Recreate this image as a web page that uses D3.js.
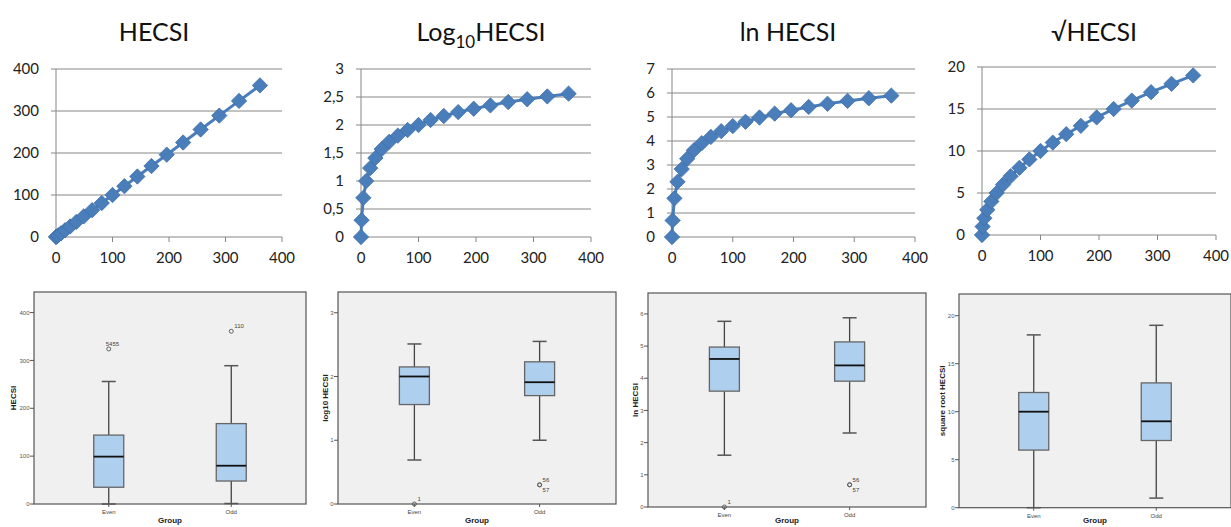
<!DOCTYPE html>
<html>
<head>
<meta charset="utf-8">
<script src="https://cdn.jsdelivr.net/npm/d3@7"></script>
<style>
html,body{margin:0;padding:0;background:#fff;}
svg{display:block;}
</style>
</head>
<body>
<svg id="chart" width="1231" height="527"></svg>
<script>
// ---------- Data ----------
const hecsiX = [0,1,4,9,16,25,36,49,64,81,100,121,144,169,196,225,256,289,324,361];
const hecsiY = [0,1,4,9,16,25,36,49,64,81,100,121,144,169,196,225,256,289,324,361];
const log10Y = [0,0.30,0.70,1.00,1.23,1.41,1.57,1.70,1.81,1.91,2.00,2.09,2.16,2.23,2.29,2.35,2.41,2.46,2.51,2.56];
const lnY = [0,0.69,1.61,2.30,2.83,3.26,3.61,3.91,4.17,4.41,4.62,4.80,4.98,5.14,5.28,5.42,5.55,5.67,5.78,5.89];
const sqrtY = [0,1,2,3,4,5,6,7,8,9,10,11,12,13,14,15,16,17,18,19];

const xTicksTop = [0,100,200,300,400];
const yTicksHecsi = [0,100,200,300,400];
const yTicksLog10 = [0,0.5,1,1.5,2,2.5,3];
const yTicksLn = [0,1,2,3,4,5,6,7];
const yTicksSqrt = [0,5,10,15,20];

const groups = ["Even","Odd"];
// five-number summaries: [lowerWhisker, Q1, median, Q3, upperWhisker]
const boxHecsiEven = [0,35,99,144,256];
const boxHecsiOdd = [1,48,80,168,289];
const boxLog10Even = [0.69,1.56,2.0,2.15,2.51];
const boxLog10Odd = [1.0,1.70,1.91,2.23,2.55];
const boxLnEven = [1.61,3.6,4.6,4.97,5.77];
const boxLnOdd = [2.3,3.91,4.40,5.13,5.88];
const boxSqrtEven = [0,6,10,12,18];
const boxSqrtOdd = [1,7,9,13,19];
const outHecsi = [{g:"Even",v:324,label:"5455",pos:"up"},{g:"Odd",v:361,label:"110",pos:"up"}];
const outLog10 = [{g:"Even",v:0,label:"1",pos:"up"},{g:"Odd",v:0.3,label:"56",pos:"up"},{g:"Odd",v:0.3,label:"57",pos:"down"}];
const outLn = [{g:"Even",v:0,label:"1",pos:"up"},{g:"Odd",v:0.69,label:"56",pos:"up"},{g:"Odd",v:0.69,label:"57",pos:"down"}];
const outSqrt = [];
const boxTicksHecsi = [0,100,200,300,400];
const boxTicksLog10 = [0,1,2,3];
const boxTicksLn = [0,1,2,3,4,5,6];
const boxTicksSqrt = [0,5,10,15,20];

const svg = d3.select("#chart");
const blue = "#4a7ebb";
const gridCol = "#868686";
const font = "Lato, 'Open Sans', sans-serif";

function lineChart(cfg){
  const g = svg.append("g");
  const x = d3.scaleLinear().domain([0,400]).range([cfg.left, cfg.right]);
  const y = d3.scaleLinear().domain(cfg.yDomain).range([cfg.bottom, cfg.top]);
  g.selectAll("line.grid").data(cfg.yTicks).enter().append("line")
    .attr("x1", cfg.left-5).attr("x2", cfg.right)
    .attr("y1", d=>y(d)).attr("y2", d=>y(d))
    .attr("stroke", gridCol).attr("stroke-width",1);
  g.append("line").attr("x1",cfg.left).attr("x2",cfg.left)
    .attr("y1",cfg.top).attr("y2",cfg.bottom).attr("stroke",gridCol);
  g.selectAll("line.xt").data(xTicksTop).enter().append("line")
    .attr("x1",d=>x(d)).attr("x2",d=>x(d)).attr("y1",cfg.bottom).attr("y2",cfg.bottom+5)
    .attr("stroke",gridCol);
  g.selectAll("text.yl").data(cfg.yTicks).enter().append("text")
    .attr("x", cfg.left-17).attr("y", d=>y(d)).attr("dy","0.35em")
    .attr("text-anchor","end").attr("font-family",font).attr("font-size",15).attr("fill","#222")
    .text(d=>cfg.fmt(d));
  g.selectAll("text.xl").data(xTicksTop).enter().append("text")
    .attr("x", d=>x(d)).attr("y", cfg.bottom+21).attr("dy","0.35em")
    .attr("text-anchor","middle").attr("font-family",font).attr("font-size",15).attr("fill","#222")
    .text(d=>d);
  const pts = hecsiX.map((d,i)=>[d, cfg.values[i]]);
  g.append("path").datum(pts)
    .attr("d", d3.line().x(d=>x(d[0])).y(d=>y(d[1])))
    .attr("fill","none").attr("stroke",blue).attr("stroke-width",3).attr("stroke-linejoin","round");
  g.selectAll("path.mk").data(pts).enter().append("path")
    .attr("d", d3.symbol().type(d3.symbolDiamond2).size(150))
    .attr("transform", d=>`translate(${x(d[0])},${y(d[1])})`)
    .attr("fill",blue).attr("stroke","#3f6fa8").attr("stroke-width",0.8);
  const t = svg.append("text").attr("x", cfg.titleX).attr("y", 41)
    .attr("text-anchor","middle").attr("font-family",font).attr("font-size",25).attr("fill","#111");
  cfg.title(t);
}

const fmtComma = d => String(d).replace(".", ",");

lineChart({left:56,right:282,top:69,bottom:237,yDomain:[0,400],yTicks:yTicksHecsi,values:hecsiY,fmt:d=>d,titleX:154,
  title:t=>t.text("HECSI")});
lineChart({left:361,right:591,top:69,bottom:237,yDomain:[0,3],yTicks:yTicksLog10,values:log10Y,fmt:fmtComma,titleX:481,
  title:t=>{t.append("tspan").text("Log");t.append("tspan").attr("font-size",17).attr("dy",7).text("10");t.append("tspan").attr("dy",-7).text("HECSI");}});
lineChart({left:672,right:915,top:69,bottom:237,yDomain:[0,7],yTicks:yTicksLn,values:lnY,fmt:d=>d,titleX:788,
  title:t=>t.text("ln HECSI")});
lineChart({left:982,right:1216,top:67,bottom:235,yDomain:[0,20],yTicks:yTicksSqrt,values:sqrtY,fmt:d=>d,titleX:1094,
  title:t=>t.text("√HECSI")});

// ---------- Box plots ----------
function boxPlot(cfg){
  const g = svg.append("g");
  const y = d3.scaleLinear().domain([0,cfg.yMax]).range([cfg.bottom, cfg.top]);
  const x = d3.scalePoint().domain(groups).range([cfg.left, cfg.right]).padding(0.61);
  g.append("rect").attr("x",cfg.left).attr("y",cfg.top).attr("width",cfg.right-cfg.left).attr("height",cfg.bottom-cfg.top)
    .attr("fill","#f0f0f0").attr("stroke","#555").attr("stroke-width",1.2);
  g.selectAll("line.yt").data(cfg.ticks).enter().append("line")
    .attr("x1",cfg.left-4).attr("x2",cfg.left).attr("y1",d=>y(d)).attr("y2",d=>y(d)).attr("stroke","#555");
  g.selectAll("text.yt").data(cfg.ticks).enter().append("text")
    .attr("x",cfg.left-4.5).attr("y",d=>y(d)).attr("dy","0.35em").attr("text-anchor","end")
    .attr("font-family","Liberation Sans, Arial, sans-serif").attr("font-size",6).attr("fill","#555").text(d=>d);
  g.selectAll("line.xt").data(groups).enter().append("line")
    .attr("x1",d=>x(d)).attr("x2",d=>x(d)).attr("y1",cfg.bottom).attr("y2",cfg.bottom+3).attr("stroke","#555");
  g.selectAll("text.xt").data(groups).enter().append("text")
    .attr("x",d=>x(d)).attr("y",cfg.bottom+8).attr("dy","0.35em").attr("text-anchor","middle")
    .attr("font-family","Liberation Sans, Arial, sans-serif").attr("font-size",6).attr("fill","#444").text(d=>d);
  svg.append("text").attr("x",(cfg.left+cfg.right)/2).attr("y",Math.min(cfg.bottom+17,520.5)).attr("dy","0.35em")
    .attr("text-anchor","middle").attr("font-family","Liberation Sans, Arial, sans-serif")
    .attr("font-size",8).attr("font-weight","bold").attr("fill","#222").text("Group");
  svg.append("text").attr("transform",`translate(${cfg.titleX},${(cfg.top+cfg.bottom)/2}) rotate(-90)`)
    .attr("dy","0.35em").attr("text-anchor","middle").attr("font-family","Liberation Sans, Arial, sans-serif")
    .attr("font-size",8).attr("font-weight","bold").attr("fill","#222").text(cfg.ylabel);
  const bw = 30, cw = 14;
  cfg.boxes.forEach((b,i)=>{
    const cx = x(groups[i]);
    const bg = g.append("g");
    bg.append("line").attr("x1",cx).attr("x2",cx).attr("y1",y(b[0])).attr("y2",y(b[1])).attr("stroke","#444").attr("stroke-width",1.3);
    bg.append("line").attr("x1",cx).attr("x2",cx).attr("y1",y(b[3])).attr("y2",y(b[4])).attr("stroke","#444").attr("stroke-width",1.3);
    bg.append("line").attr("x1",cx-cw/2).attr("x2",cx+cw/2).attr("y1",y(b[0])).attr("y2",y(b[0])).attr("stroke","#555").attr("stroke-width",1.5);
    bg.append("line").attr("x1",cx-cw/2).attr("x2",cx+cw/2).attr("y1",y(b[4])).attr("y2",y(b[4])).attr("stroke","#555").attr("stroke-width",1.5);
    bg.append("rect").attr("x",cx-bw/2).attr("y",y(b[3])).attr("width",bw).attr("height",y(b[1])-y(b[3]))
      .attr("fill","#aecfee").attr("stroke","#666").attr("stroke-width",1.3);
    bg.append("line").attr("x1",cx-bw/2).attr("x2",cx+bw/2).attr("y1",y(b[2])).attr("y2",y(b[2])).attr("stroke","#111").attr("stroke-width",1.8);
  });
  cfg.outliers.forEach(o=>{
    const cx = x(o.g), cy = y(o.v);
    g.append("circle").attr("cx",cx).attr("cy",cy).attr("r",2).attr("fill","none").attr("stroke","#555").attr("stroke-width",0.9);
    g.append("text").attr("x",cx+(o.label.length>2 && o.pos==="up" && o.g==="Even"?-3:3)).attr("y",o.pos==="up"?cy-5:cy+5).attr("dy","0.35em")
      .attr("font-family","Liberation Sans, Arial, sans-serif").attr("font-size",6).attr("fill","#444").text(o.label);
  });
}

boxPlot({left:34,right:306,top:292,bottom:504,yMax:443,ticks:boxTicksHecsi,boxes:[boxHecsiEven,boxHecsiOdd],outliers:outHecsi,ylabel:"HECSI",titleX:13});
boxPlot({left:338,right:616,top:292,bottom:504,yMax:3.325,ticks:boxTicksLog10,boxes:[boxLog10Even,boxLog10Odd],outliers:outLog10,ylabel:"log10 HECSI",titleX:325});
boxPlot({left:648,right:926,top:293,bottom:507,yMax:6.65,ticks:boxTicksLn,boxes:[boxLnEven,boxLnOdd],outliers:outLn,ylabel:"ln HECSI",titleX:635});
boxPlot({left:959,right:1231,top:294,bottom:507.7,yMax:22.26,ticks:boxTicksSqrt,boxes:[boxSqrtEven,boxSqrtOdd],outliers:outSqrt,ylabel:"square root HECSI",titleX:942});
</script>
</body>
</html>
